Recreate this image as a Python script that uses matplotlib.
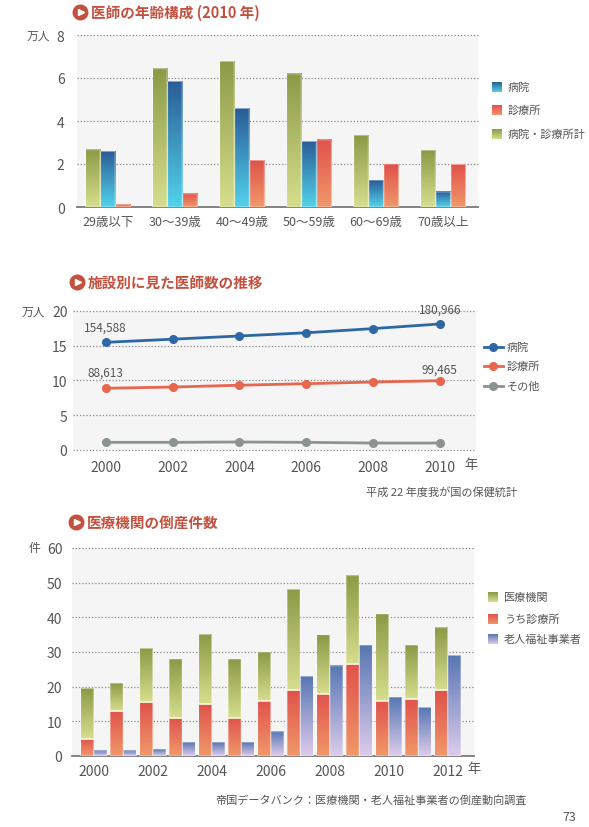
import numpy as np
import matplotlib
matplotlib.use('Agg')
import matplotlib.pyplot as plt
from matplotlib.colors import to_rgb
from matplotlib.lines import Line2D

plt.rcParams['font.family'] = ['Noto Sans CJK JP', 'DejaVu Sans']

# ---------------- data ----------------
# Chart 1: 医師の年齢構成 (2010年), 万人
age_groups = ['29歳以下', '30〜39歳', '40〜49歳', '50〜59歳', '60〜69歳', '70歳以上']
total_age = [2.66, 6.43, 6.77, 6.19, 3.34, 2.64]
hospital_age = [2.59, 5.84, 4.58, 3.05, 1.25, 0.70]
clinic_age = [0.11, 0.61, 2.17, 3.12, 2.00, 1.98]
legend1 = ['病院', '診療所', '病院・診療所計']

# Chart 2: 施設別に見た医師数の推移, 万人
years2 = [2000, 2002, 2004, 2006, 2008, 2010]
hospital_trend = [15.4588, 15.91, 16.37, 16.83, 17.43, 18.0966]
clinic_trend = [8.8613, 9.04, 9.30, 9.52, 9.76, 9.9465]
other_trend = [1.10, 1.10, 1.15, 1.10, 1.00, 1.00]
legend2 = ['病院', '診療所', 'その他']
notes2 = ['154,588', '180,966', '88,613', '99,465']

# Chart 3: 医療機関の倒産件数, 件
years3 = list(range(2000, 2013))
medical_total = [19.5, 21, 31, 28, 35, 28, 30, 48, 35, 52, 41, 32, 37]
clinic_bk = [5, 13, 15.5, 11, 15, 11, 16, 19, 18, 26.5, 16, 16.5, 19]
welfare_bk = [1.5, 1.5, 2, 4, 4, 4, 7, 23, 26, 32, 17, 14, 29]
legend3 = ['医療機関', 'うち診療所', '老人福祉事業者']

# ---------------- styles ----------------
W, H = 589, 828
TITLE_C = '#c4513f'
TXT_C = '#555555'
GRID_C = '#8a8a8a'
BG_C = '#f5f5f5'

G_TOP, G_BOT = '#8c9a46', '#d6de8e'
B_TOP, B_BOT = '#2a5d98', '#52d2ea'
R_TOP, R_BOT = '#e0524b', '#f0986a'
P_TOP, P_BOT = '#5877b3', '#dccbeb'

fig = plt.figure(figsize=(W / 100, H / 100), dpi=100)
fig.patch.set_facecolor('white')


def add_ax(l, r, t, b):
    return fig.add_axes([l / W, 1 - b / H, (r - l) / W, (b - t) / H])


def grad_img(ctop, cbot, n=64):
    t = np.linspace(0, 1, n)[:, None, None]
    a = np.array(to_rgb(ctop))[None, None, :]
    b = np.array(to_rgb(cbot))[None, None, :]
    return a * (1 - t) + b * t


def grad_bars(ax, bars, ctop, cbot, z=3):
    img = grad_img(ctop, cbot)
    for p in bars.patches:
        p.set_snap(False)
        x0, y0, w, h = p.get_x(), p.get_y(), p.get_width(), p.get_height()
        ax.imshow(img, extent=[x0, x0 + w, y0, y0 + h], origin='upper',
                  aspect='auto', interpolation='bilinear', zorder=z)


def style_axes(ax, bg=BG_C):
    ax.set_facecolor(bg)
    for s in ['top', 'right', 'left']:
        ax.spines[s].set_visible(False)
    ax.spines['bottom'].set_color('#7a7a7a')
    ax.spines['bottom'].set_linewidth(1.3)


def dotted_grid(ax, vals):
    for v in vals:
        ax.axhline(v, color=GRID_C, lw=0.9, ls=(0, (1, 1.6)), zorder=1, clip_on=False)


EDGE = (1, 1, 1, 0.55)

# ---------------- chart 1 ----------------
ax1 = add_ax(77, 478, 36, 208)
style_axes(ax1)
x1 = np.arange(len(age_groups))
bw = 0.215
bg = ax1.bar(x1 - 0.225, total_age, bw, color='none', edgecolor=EDGE, lw=0.6, zorder=4)
bb = ax1.bar(x1, hospital_age, bw, color='none', edgecolor=EDGE, lw=0.6, zorder=4)
br = ax1.bar(x1 + 0.225, clinic_age, bw, color='none', edgecolor=EDGE, lw=0.6, zorder=4)
grad_bars(ax1, bg, G_TOP, G_BOT)
grad_bars(ax1, bb, B_TOP, B_BOT)
grad_bars(ax1, br, R_TOP, R_BOT)
dotted_grid(ax1, [2, 4, 6, 8])
ax1.set_xlim(-0.46, 5.52)
ax1.set_ylim(0, 8)
ax1.set_yticks([0, 2, 4, 6, 8])
ax1.set_xticks(x1)
ax1.set_xticklabels(age_groups)
ax1.tick_params(axis='y', length=0, pad=9, labelsize=10, labelcolor=TXT_C)
ax1.tick_params(axis='x', length=0, pad=6, labelsize=9, labelcolor=TXT_C)

# ---------------- chart 2 ----------------
ax2 = add_ax(73, 476, 311.7, 451)
style_axes(ax2)
ax2.spines['bottom'].set_visible(False)
dotted_grid(ax2, [0, 5, 10, 15, 20])
c_h, c_c, c_o = '#2e68a4', '#e8654e', '#8a9292'
ax2.plot(years2, hospital_trend, color=c_h, lw=2, marker='o', ms=5.5, zorder=5, clip_on=False)
ax2.plot(years2, clinic_trend, color=c_c, lw=2, marker='o', ms=5.5, zorder=5, clip_on=False)
ax2.plot(years2, other_trend, color=c_o, lw=2, marker='o', ms=5.5, zorder=5, clip_on=False)
ax2.set_xlim(1999.02, 2011.08)
ax2.set_ylim(0, 20)
ax2.set_yticks([0, 5, 10, 15, 20])
ax2.set_xticks(years2)
ax2.tick_params(axis='y', length=0, pad=4, labelsize=10, labelcolor=TXT_C)
ax2.tick_params(axis='x', length=0, pad=7, labelsize=10, labelcolor=TXT_C)
ann = [(years2[0], hospital_trend[0], notes2[0], 15),
       (years2[-1], hospital_trend[-1], notes2[1], 15),
       (years2[0], clinic_trend[0], notes2[2], 16),
       (years2[-1], clinic_trend[-1], notes2[3], 12)]
for xx, yy, tx, off in ann:
    ax2.annotate(tx, (xx, yy), xytext=(0, off), textcoords='offset pixels',
                 ha='center', va='center', fontsize=8.5, color=TXT_C, zorder=6)

# ---------------- chart 3 ----------------
ax3 = add_ax(72, 474, 549, 757)
style_axes(ax3)
yrs = np.array(years3)
bw3 = 0.44
bc = ax3.bar(yrs - 0.225, clinic_bk, bw3, color='none', edgecolor=EDGE, lw=0.6, zorder=4)
upper = np.array(medical_total) - np.array(clinic_bk)
bm = ax3.bar(yrs - 0.225, upper, bw3, bottom=clinic_bk, color='none',
             edgecolor=EDGE, lw=0.6, zorder=4)
bp = ax3.bar(yrs + 0.225, welfare_bk, bw3, color='none', edgecolor=EDGE, lw=0.6, zorder=4)
grad_bars(ax3, bc, R_TOP, R_BOT)
grad_bars(ax3, bm, G_TOP, G_BOT)
grad_bars(ax3, bp, P_TOP, P_BOT)
# light separator between clinic and rest
ax3.hlines(clinic_bk, yrs - 0.225 - bw3 / 2, yrs - 0.225 + bw3 / 2,
           color='#f4f2d8', lw=1.2, zorder=5)
dotted_grid(ax3, [10, 20, 30, 40, 50, 60])
ax3.set_xlim(1999.26, 2012.89)
ax3.set_ylim(0, 60)
ax3.set_yticks([0, 10, 20, 30, 40, 50, 60])
ax3.set_xticks(list(range(2000, 2013, 2)))
ax3.tick_params(axis='y', length=0, pad=7, labelsize=10, labelcolor=TXT_C)
ax3.tick_params(axis='x', length=0, pad=6, labelsize=10, labelcolor=TXT_C)

# ---------------- overlay (titles, legends, notes) ----------------
ov = fig.add_axes([0, 0, 1, 1], zorder=10)
ov.set_xlim(0, W)
ov.set_ylim(H, 0)
ov.axis('off')


def title(xc, yc, text):
    ov.plot(xc, yc, 'o', ms=10.5, color=TITLE_C, mec=TITLE_C)
    ov.plot(xc + 0.8, yc, '>', ms=4.5, color='white', mec='white')
    ov.text(xc + 11, yc, text, fontsize=10.5, fontweight='bold', color=TITLE_C,
            ha='left', va='center')


title(80, 13, '医師の年齢構成 (2010 年)')
title(77, 283, '施設別に見た医師数の推移')
title(76, 523, '医療機関の倒産件数')

ov.text(38, 36, '万人', fontsize=8.5, color=TXT_C, ha='center', va='center')
ov.text(33, 312, '万人', fontsize=8.5, color=TXT_C, ha='center', va='center')
ov.text(34, 549, '件', fontsize=8.5, color=TXT_C, ha='center', va='center')
ov.text(471, 466, '年', fontsize=9.5, color=TXT_C, ha='center', va='center')
ov.text(474, 770, '年', fontsize=9.5, color=TXT_C, ha='center', va='center')


def legend_sq(x, ys, labels, cols):
    for y, lab, (ct, cb) in zip(ys, labels, cols):
        ov.imshow(grad_img(ct, cb), extent=[x, x + 10, y + 5, y - 5], origin='upper',
                  aspect='auto', interpolation='bilinear')
        ov.text(x + 16, y, lab, fontsize=8, color=TXT_C, ha='left', va='center')


legend_sq(492, [88, 111, 135], legend1, [(B_TOP, B_BOT), (R_TOP, R_BOT), (G_TOP, G_BOT)])
legend_sq(488, [598, 620, 640], legend3, [(G_TOP, G_BOT), (R_TOP, R_BOT), (P_TOP, P_BOT)])

for y, lab, c in zip([347.7, 367, 387], legend2, [c_h, c_c, c_o]):
    ov.add_line(Line2D([484, 503], [y, y], color=c, lw=2))
    ov.plot(493, y, 'o', ms=5.5, color=c)
    ov.text(507, y, lab, fontsize=8, color=TXT_C, ha='left', va='center')

ov.text(517, 492, '平成 22 年度我が国の保健統計', fontsize=8, color=TXT_C, ha='right', va='center')
ov.text(215, 801, '帝国データバンク：医療機関・老人福祉事業者の倒産動向調査', fontsize=8,
        color=TXT_C, ha='left', va='center')
ov.text(569, 818, '73', fontsize=9, color=TXT_C, ha='center', va='center')

ov.set_xlim(0, W)
ov.set_ylim(H, 0)

fig.savefig('out.png', dpi=100, facecolor='white')
